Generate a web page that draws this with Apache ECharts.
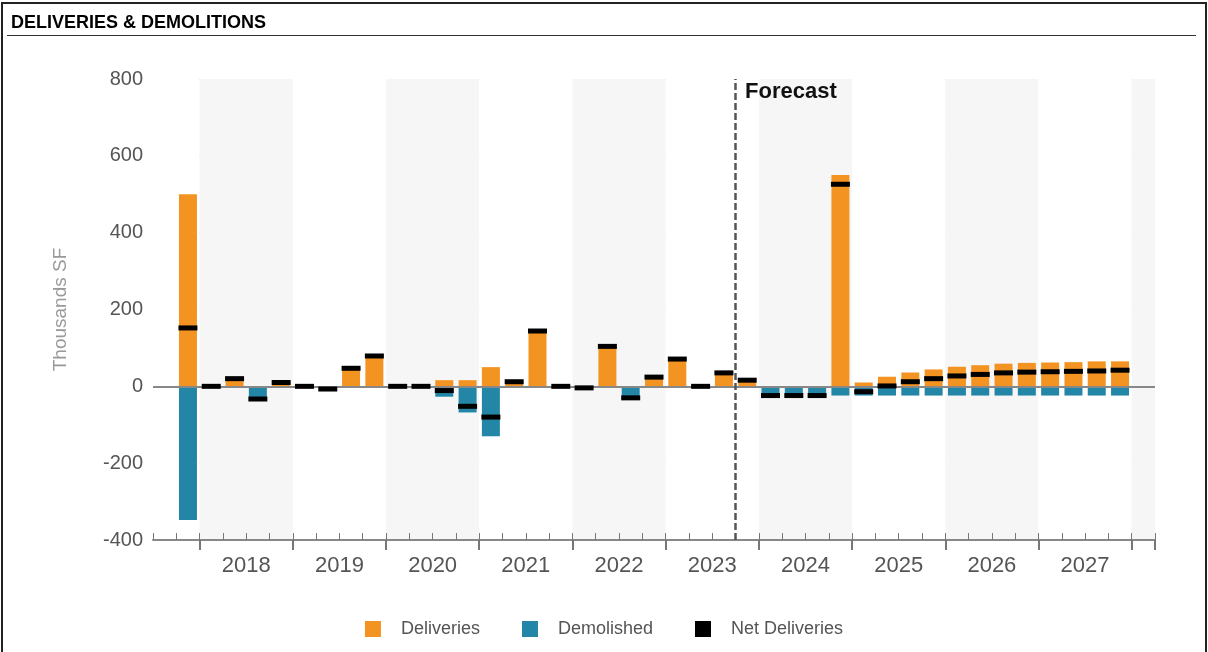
<!DOCTYPE html>
<html>
<head>
<meta charset="utf-8">
<script src="https://cdn.jsdelivr.net/npm/echarts@6/dist/echarts.min.js"></script>
<style>
  html, body { margin: 0; padding: 0; background: #fff; }
  #chart { position: absolute; left: 0; top: 0; width: 1208px; height: 652px; }
  #frame {
    position: absolute; left: 1px; top: 2px; width: 1202px; height: 700px;
    border: 2px solid #222; pointer-events: none;
  }
</style>
</head>
<body>
<div id="chart"></div>
<div id="frame"></div>
<script>
// quarters, 2017 Q3 .. 2028 Q1 (first and last slots are empty)
const quarters = [
  '2017 Q3', '2017 Q4',
  '2018 Q1', '2018 Q2', '2018 Q3', '2018 Q4',
  '2019 Q1', '2019 Q2', '2019 Q3', '2019 Q4',
  '2020 Q1', '2020 Q2', '2020 Q3', '2020 Q4',
  '2021 Q1', '2021 Q2', '2021 Q3', '2021 Q4',
  '2022 Q1', '2022 Q2', '2022 Q3', '2022 Q4',
  '2023 Q1', '2023 Q2', '2023 Q3', '2023 Q4',
  '2024 Q1', '2024 Q2', '2024 Q3', '2024 Q4',
  '2025 Q1', '2025 Q2', '2025 Q3', '2025 Q4',
  '2026 Q1', '2026 Q2', '2026 Q3', '2026 Q4',
  '2027 Q1', '2027 Q2', '2027 Q3', '2027 Q4',
  '2028 Q1'
];

const deliveries = [
  null, 500,
  0, 20, 0, 10,
  0, 0, 50, 80,
  0, 0, 16, 16,
  50, 12, 146, 0,
  0, 106, 0, 26,
  73, 0, 36, 16,
  0, 0, 0, 550,
  10, 25, 36, 44,
  51, 55, 59, 61,
  62, 63, 65, 65,
  null
];

const demolished = [
  null, -348,
  0, 0, -33, 0,
  0, -7, 0, 0,
  0, 0, -27, -68,
  -130, 0, 0, 0,
  -4, 0, -30, 0,
  0, 0, 0, 0,
  -24, -24, -24, -24,
  -24, -24, -24, -24,
  -24, -24, -24, -24,
  -24, -24, -24, -24,
  null
];

const netDeliveries = [
  null, 152,
  0, 20, -33, 10,
  0, -7, 47, 79,
  0, 0, -11, -52,
  -80, 12, 144, 0,
  -4, 104, -30, 24,
  71, 0, 35, 16,
  -24, -24, -24, 526,
  -14, 1, 12, 20,
  27, 31, 35, 37,
  38, 39, 40, 42,
  null
];

// forecast starts at the boundary before 2023 Q4
const forecastStart = quarters.indexOf('2023 Q4');

const FONT = '"Liberation Sans", Arial, sans-serif';
const ORANGE = '#f39322';
const TEAL = '#2386a6';

const chart = echarts.init(document.getElementById('chart'), null, { renderer: 'canvas' });

const option = {
  backgroundColor: '#fff',
  animation: false,
  title: {
    text: 'DELIVERIES & DEMOLITIONS',
    left: 6,
    top: 9,
    textStyle: { fontFamily: FONT, fontSize: 18, fontWeight: 'bold', color: '#000' },
  },
  graphic: [
    {
      type: 'rect',
      z: 100,
      shape: { x: 7, y: 35, width: 1189, height: 1 },
      style: { fill: '#333' },
      silent: true,
    },
    {
      type: 'text',
      z: 100,
      left: 745,
      top: 81,
      style: { text: 'Forecast', font: 'bold 22px ' + FONT, fill: '#111' },
      silent: true,
    },
  ],
  legend: {
    bottom: 9,
    left: 'center',
    itemWidth: 16,
    itemHeight: 16,
    itemGap: 42,
    icon: 'rect',
    textStyle: { fontFamily: FONT, fontSize: 18, color: '#555', padding: [0, 0, 0, 15] },
    data: ['Deliveries', 'Demolished', 'Net Deliveries'],
  },
  grid: { left: 153, right: 53, top: 79, bottom: 112 },
  xAxis: [
    {
      type: 'category',
      data: quarters,
      position: 'bottom',
      axisLine: { onZero: false, lineStyle: { color: '#888', width: 2 } },
      axisTick: { show: true, inside: true, length: 7, interval: 0, lineStyle: { color: '#777', width: 1 } },
      axisLabel: {
        interval: (i, v) => v.endsWith('Q2'),
        formatter: (v) => v.slice(0, 4),
        fontFamily: FONT,
        fontSize: 22,
        color: '#555',
        margin: 15,
        padding: [0, 0, 0, 23.3],
      },
      splitLine: { show: false },
    },
    {
      type: 'category',
      data: quarters,
      position: 'bottom',
      axisLine: { show: false, onZero: false },
      axisTick: {
        show: true,
        length: 10,
        interval: (i, v) => v.endsWith('Q1'),
        lineStyle: { color: '#777', width: 2 },
      },
      axisLabel: { show: false },
      splitArea: {
        show: true,
        interval: (i, v) => v.endsWith('Q1'),
        areaStyle: { color: ['#ffffff', '#f6f6f6'] },
      },
    },
    {
      // hidden linear axis over the same span, for the forecast divider
      type: 'value',
      min: 0,
      max: quarters.length,
      show: false,
    },
  ],
  yAxis: {
    type: 'value',
    min: -400,
    max: 800,
    interval: 200,
    name: 'Thousands SF',
    nameLocation: 'middle',
    nameGap: 83,
    nameTextStyle: { fontFamily: FONT, fontSize: 19, color: '#999' },
    axisLine: { show: false },
    axisTick: { show: false },
    axisLabel: { fontFamily: FONT, fontSize: 20, color: '#555', margin: 10 },
    splitLine: { lineStyle: { color: '#c8c8c8', type: 'dotted', width: 1 } },
  },
  series: [
    {
      name: 'Deliveries',
      type: 'bar',
      stack: 'dd',
      barWidth: 18,
      itemStyle: { color: ORANGE },
      data: deliveries,
      z: 2,
      markLine: {
        silent: true,
        z: 3,
        symbol: 'none',
        label: { show: false },
        lineStyle: { color: '#888', width: 2, type: 'solid' },
        data: [{ yAxis: 0 }],
      },
    },
    {
      name: 'Demolished',
      type: 'bar',
      stack: 'dd',
      barWidth: 18,
      itemStyle: { color: TEAL },
      data: demolished,
      z: 2,
    },
    {
      name: 'Net Deliveries',
      type: 'scatter',
      symbol: 'rect',
      symbolSize: [19, 5],
      itemStyle: { color: '#000', opacity: 1 },
      data: netDeliveries,
      z: 6,
    },
    {
      name: 'forecast',
      type: 'line',
      xAxisIndex: 2,
      data: [],
      markLine: {
        silent: true,
        symbol: 'none',
        label: { show: false },
        lineStyle: { color: '#555', width: 2.5, type: [7, 3] },
        data: [{ xAxis: forecastStart }],
      },
      z: 5,
    },
  ],
};

chart.setOption(option);
</script>
</body>
</html>
